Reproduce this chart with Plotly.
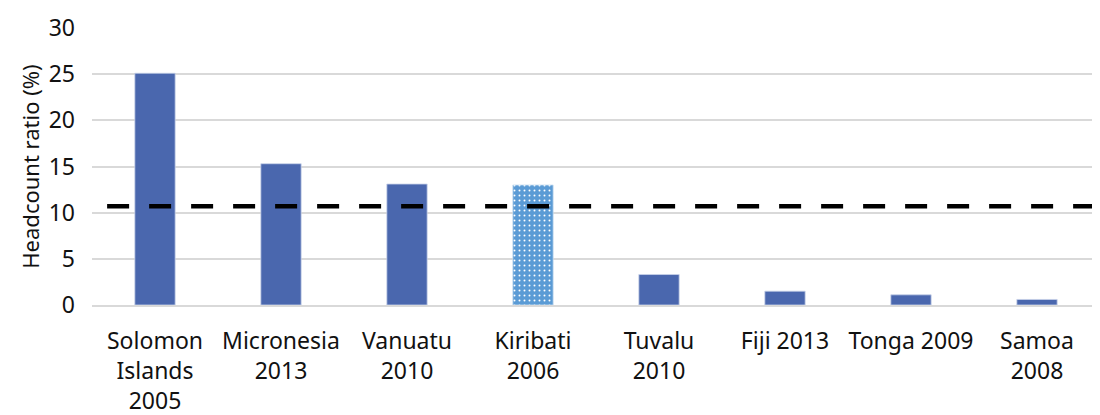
import plotly.graph_objects as go

countries = ["Solomon<br>Islands<br>2005", "Micronesia<br>2013", "Vanuatu<br>2010",
             "Kiribati<br>2006", "Tuvalu<br>2010", "Fiji 2013", "Tonga 2009", "Samoa<br>2008"]
headcount = [25.1, 15.3, 13.1, 13.0, 3.3, 1.5, 1.1, 0.6]
average = 10.7
highlight = 3  # Kiribati, shown with a dotted fill

solid_x = [c for i, c in enumerate(countries) if i != highlight]
solid_y = [v for i, v in enumerate(headcount) if i != highlight]

fig = go.Figure()
fig.add_trace(go.Bar(
    x=solid_x, y=solid_y, width=0.32,
    marker=dict(color="#4A67AE", line=dict(color="#C9D3EA", width=0.8)),
))
fig.add_trace(go.Bar(
    x=[countries[highlight]], y=[headcount[highlight]], width=0.32,
    marker=dict(color="#5B9BD5", line=dict(color="#C9DDF0", width=0.8),
                pattern=dict(shape=".", fgcolor="white", bgcolor="#5B9BD5", size=5,
                             solidity=0.12, fillmode="replace")),
))
fig.add_shape(type="line", xref="paper", yref="y", x0=0.015, x1=1, y0=average, y1=average,
              line=dict(color="black", width=4.5, dash="22px,20px"))

fig.update_layout(
    width=1100, height=415,
    margin=dict(l=84, r=8, t=20, b=118),
    paper_bgcolor="white", plot_bgcolor="white",
    showlegend=False, barmode="overlay",
    font=dict(family="Noto Sans", size=23, color="#111111"),
)
fig.update_yaxes(range=[0, 30], dtick=5, showgrid=True, gridcolor="#D9D9D9", gridwidth=1.5,
                 zeroline=False, ticks="", ticklabelstandoff=16, automargin=False,
                 title=dict(text="Headcount ratio (%)", font=dict(size=22), standoff=2))
fig.update_xaxes(showline=True, linecolor="#D9D9D9", linewidth=1.5, ticks="",
                 ticklabelstandoff=15, automargin=False,
                 categoryorder="array", categoryarray=countries)

fig.write_html("out.html")
